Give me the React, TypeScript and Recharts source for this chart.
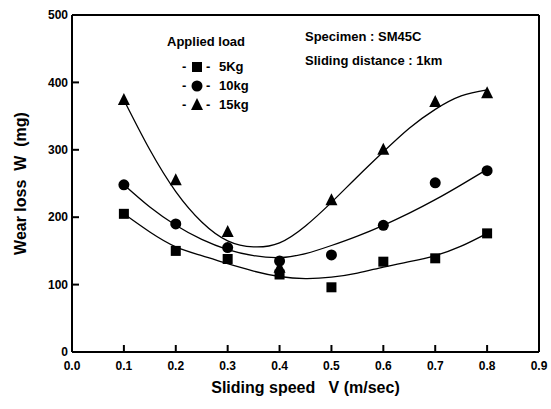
import { ComposedChart, Line, Scatter, XAxis, YAxis, Label } from "recharts";

const speeds = [0.1, 0.2, 0.3, 0.4, 0.5, 0.6, 0.7, 0.8];
const load5 = [205, 150, 138, 115, 96, 134, 139, 176];
const load10 = [248, 190, 155, 135, 144, 188, 251, 269];
const load15 = [374, 255, 178, 125, 225, 300, 371, 384];

const curveX = [0.1, 0.15, 0.2, 0.25, 0.3, 0.35, 0.4, 0.45, 0.5, 0.55, 0.6, 0.65, 0.7, 0.75, 0.8];
const fit5 = [205, 178, 156, 143, 131, 120, 112, 109, 111, 117, 126, 134, 143, 157, 176];
const fit10 = [248, 215, 188, 167, 152, 143, 140, 146, 158, 172, 188, 206, 226, 248, 271];
const fit15 = [374, 300, 238, 193, 165, 156, 162, 187, 222, 260, 297, 332, 360, 380, 389];

const xTicks = [0, 0.1, 0.2, 0.3, 0.4, 0.5, 0.6, 0.7, 0.8, 0.9];
const yTicks = [0, 100, 200, 300, 400, 500];

const pts = (ys: number[]) => speeds.map((x, i) => ({ x, y: ys[i] }));
const curve = (ys: number[]) => curveX.map((x, i) => ({ x, y: ys[i] }));

const font = "'Liberation Sans', Arial, sans-serif";
const tickStyle = { fontFamily: font, fontSize: 12, fontWeight: 700, fill: "#000" };
const sp = "\u00a0";

const Square = (p: any) => <rect x={p.cx - 5} y={p.cy - 5} width={10} height={10} fill="#000" />;
const Dot = (p: any) => <circle cx={p.cx} cy={p.cy} r={5.5} fill="#000" />;
const Tri = (p: any) => (
  <polygon points={`${p.cx},${p.cy - 7} ${p.cx - 6},${p.cy + 5} ${p.cx + 6},${p.cy + 5}`} fill="#000" />
);

const legendRow = (marker: any, text: string) => (
  <div style={{ display: "flex", alignItems: "center", height: 19 }}>
    <span style={{ width: 9 }}>-</span>
    <svg width={12} height={14} style={{ marginRight: 3 }}>{marker}</svg>
    <span style={{ width: 13 }}>-</span>
    <span>{text}</span>
  </div>
);

export default function App() {
  return (
    <div style={{ position: "absolute", left: 0, top: 0, width: 551, height: 409, background: "#fff" }}>
      <ComposedChart width={551} height={409} margin={{ top: 14, right: 11, bottom: 27, left: 0 }}>
        <XAxis
          xAxisId="top"
          orientation="top"
          type="number"
          dataKey="x"
          domain={[0, 0.9]}
          ticks={xTicks}
          tick={false}
          height={1}
          tickSize={-6}
          stroke="#000"
          strokeWidth={2}
        />
        <YAxis
          yAxisId="right"
          orientation="right"
          type="number"
          dataKey="y"
          domain={[0, 500]}
          ticks={yTicks}
          tick={false}
          width={1}
          tickSize={-6}
          stroke="#000"
          strokeWidth={2}
        />
        <XAxis
          type="number"
          dataKey="x"
          domain={[0, 0.9]}
          ticks={xTicks}
          tickFormatter={(v: number) => v.toFixed(1)}
          tick={tickStyle}
          tickSize={-7}
          tickMargin={16}
          height={30}
          stroke="#000"
          strokeWidth={2}
        >
          <Label
            value={`Sliding speed${sp}${sp}${sp}V (m/sec)`}
            position="bottom"
            offset={0}
            style={{ fontFamily: font, fontSize: 16, fontWeight: 700, fill: "#000" }}
          />
        </XAxis>
        <YAxis
          type="number"
          dataKey="y"
          domain={[0, 500]}
          ticks={yTicks}
          tick={tickStyle}
          tickSize={-7}
          tickMargin={11}
          width={72}
          stroke="#000"
          strokeWidth={2}
        >
          <Label
            value={`Wear loss${sp}${sp}W${sp}${sp}(mg)`}
            angle={-90}
            position="insideLeft"
            offset={20}
            style={{ textAnchor: "middle", fontFamily: font, fontSize: 16, fontWeight: 700, fill: "#000" }}
          />
        </YAxis>
        <Line data={curve(fit5)} dataKey="y" type="natural" stroke="#000" strokeWidth={1.3} dot={false} isAnimationActive={false} />
        <Line data={curve(fit10)} dataKey="y" type="natural" stroke="#000" strokeWidth={1.3} dot={false} isAnimationActive={false} />
        <Line data={curve(fit15)} dataKey="y" type="natural" stroke="#000" strokeWidth={1.3} dot={false} isAnimationActive={false} />
        <Scatter data={pts(load5)} dataKey="y" shape={Square} isAnimationActive={false} />
        <Scatter data={pts(load10)} dataKey="y" shape={Dot} isAnimationActive={false} />
        <Scatter data={pts(load15)} dataKey="y" shape={Tri} isAnimationActive={false} />
      </ComposedChart>
      <div style={{ position: "absolute", left: 167, top: 34, fontFamily: font, fontSize: 13, fontWeight: 700, color: "#000" }}>
        <div style={{ marginBottom: 8 }}>Applied load</div>
        <div style={{ marginLeft: 15 }}>
          {legendRow(<rect x={1} y={2} width={10} height={10} fill="#000" />, "5Kg")}
          {legendRow(<circle cx={6} cy={7} r={5.5} fill="#000" />, "10kg")}
          {legendRow(<polygon points="6,0 0,12 12,12" fill="#000" />, "15kg")}
        </div>
      </div>
      <div style={{ position: "absolute", left: 305, top: 25, fontFamily: font, fontSize: 13, fontWeight: 700, color: "#000", lineHeight: "24px" }}>
        <div>{`Specimen${sp}:${sp}SM45C`}</div>
        <div>{`Sliding distance${sp}:${sp}1km`}</div>
      </div>
    </div>
  );
}
